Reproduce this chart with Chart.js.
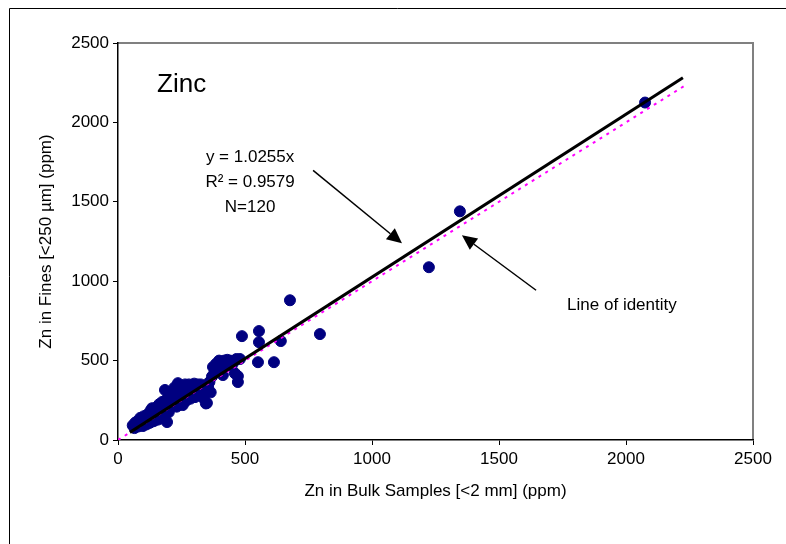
<!DOCTYPE html>
<html>
<head>
<meta charset="utf-8">
<script src="https://cdn.jsdelivr.net/npm/chart.js@4.4.1/dist/chart.umd.min.js"></script>
<style>
  html, body { margin: 0; padding: 0; background: #fff; }
</style>
</head>
<body>
<canvas id="zinc-chart" width="786" height="544"></canvas>
<script>
// Zn in bulk samples (x) vs Zn in fines (y), ppm
var bulkZn = [58, 65, 68, 72, 78, 80, 85, 88, 92, 95, 98, 102, 105, 108, 112, 115, 118, 122, 125, 128,
  132, 134, 138, 140, 144, 148, 150, 153, 156, 160, 162, 165, 168, 170, 174, 176, 180, 183, 185, 188,
  190, 193, 195, 198, 200, 203, 206, 208, 211, 214, 216, 219, 222, 225, 228, 231, 234, 236, 238, 241,
  244, 246, 249, 252, 255, 258, 261, 264, 267, 270, 273, 276, 279, 282, 285, 288, 291, 294, 297, 300,
  303, 306, 310, 314, 318, 322, 326, 330, 334, 338, 342, 346, 350, 355, 360, 365, 370, 374, 380, 386,
  392, 398, 404, 410, 413, 418, 424, 430, 436, 442, 448, 455, 460, 466, 472, 472,
  480, 488, 551, 555, 555, 614, 641, 677, 795, 1224, 1346, 2075];
var finesZn = [92, 75, 110, 95, 120, 85, 105, 140, 100, 125, 88, 150, 115, 135, 98, 160, 125, 145, 108, 185,
  130, 200, 155, 118, 170, 140, 205, 160, 128, 185, 225, 150, 200, 135, 240, 175, 210, 160, 315, 250,
  190, 113, 225, 270, 175, 240, 290, 205, 260, 305, 225, 280, 330, 245, 300, 210, 265, 358, 320, 235,
  285, 340, 255, 300, 220, 330, 275, 350, 245, 305, 330, 270, 350, 290, 260, 320, 345, 280, 300, 355,
  270, 330, 300, 350, 280, 325, 350, 295, 340, 260, 310, 230, 233, 330, 365, 300, 400, 460, 430, 480,
  450, 500, 470, 490, 409, 500, 460, 505, 480, 500, 470, 490, 420, 510, 402, 365,
  510, 654, 490, 686, 616, 490, 623, 880, 667, 1088, 1440, 2125];

// regression line y = 1.0255x and line of identity (end points)
var fitX = [47, 2224];
var fitY = [48, 2281];
var identityX = [0, 2236];
var identityY = [0, 2236];

var axisMin = 0;
var axisMax = 2500;
var axisStep = 500;

var FONT = "'Liberation Sans', Arial, sans-serif";

function toPoints(xs, ys) {
  return xs.map(function (x, i) { return { x: x, y: ys[i] }; });
}

// text and arrows placed in data units
var labelLines = ['y = 1.0255x', 'R\u00B2 = 0.9579', 'N=120'];
var labelAt = { x: 520, y: 1780 };
var arrowFit = { from: { x: 768, y: 1698 }, to: { x: 1118, y: 1239 } };
var arrowIdentity = { from: { x: 1646, y: 943 }, to: { x: 1354, y: 1289 } };

function drawArrow(ctx, x1, y1, x2, y2) {
  var ang = Math.atan2(y2 - y1, x2 - x1);
  var len = 15, half = 7;
  var bx = x2 - len * Math.cos(ang), by = y2 - len * Math.sin(ang);
  ctx.beginPath();
  ctx.moveTo(x1, y1);
  ctx.lineTo(bx, by);
  ctx.stroke();
  ctx.beginPath();
  ctx.moveTo(x2, y2);
  ctx.lineTo(bx + half * Math.sin(ang), by - half * Math.cos(ang));
  ctx.lineTo(bx - half * Math.sin(ang), by + half * Math.cos(ang));
  ctx.closePath();
  ctx.fill();
}

var decorations = {
  id: 'decorations',
  beforeDraw: function (chart) {
    var ctx = chart.ctx, a = chart.chartArea;
    ctx.save();
    // outer frame
    ctx.strokeStyle = '#000';
    ctx.lineWidth = 1;
    ctx.beginPath();
    ctx.moveTo(9.5, 544);
    ctx.lineTo(9.5, 8.5);
    ctx.lineTo(786, 8.5);
    ctx.stroke();
    // plot border top and right
    ctx.strokeStyle = '#808080';
    ctx.lineWidth = 2;
    ctx.beginPath();
    ctx.moveTo(a.left, a.top);
    ctx.lineTo(a.right, a.top);
    ctx.lineTo(a.right, a.bottom);
    ctx.stroke();
    ctx.restore();
  },
  afterDatasetsDraw: function (chart) {
    var ctx = chart.ctx, xs = chart.scales.x, ys = chart.scales.y;
    ctx.save();
    ctx.fillStyle = '#000';
    ctx.textBaseline = 'middle';

    ctx.font = '26px ' + FONT;
    ctx.textAlign = 'left';
    ctx.fillText('Zinc', xs.getPixelForValue(154), ys.getPixelForValue(2239));

    ctx.font = '17px ' + FONT;
    ctx.textAlign = 'center';
    var cx = xs.getPixelForValue(labelAt.x), cy = ys.getPixelForValue(labelAt.y);
    labelLines.forEach(function (t, i) { ctx.fillText(t, cx, cy + i * 25); });

    ctx.fillText('Line of identity', xs.getPixelForValue(1984), ys.getPixelForValue(849));

    ctx.strokeStyle = '#000';
    ctx.lineWidth = 1.5;
    [arrowFit, arrowIdentity].forEach(function (ar) {
      drawArrow(ctx,
        xs.getPixelForValue(ar.from.x), ys.getPixelForValue(ar.from.y),
        xs.getPixelForValue(ar.to.x), ys.getPixelForValue(ar.to.y));
    });
    ctx.restore();
  }
};

var ctx = document.getElementById('zinc-chart');

var chartData = {
  datasets: [{
    label: 'Fit',
    data: toPoints(fitX, fitY),
    showLine: true,
    borderColor: '#000',
    borderWidth: 3,
    pointRadius: 0,
    order: 1
  }, {
    label: 'Line of identity',
    data: toPoints(identityX, identityY),
    showLine: true,
    borderColor: '#ff00ff',
    borderWidth: 2,
    borderDash: [3, 5],
    pointRadius: 0,
    order: 2
  }, {
    label: 'Zn',
    data: toPoints(bulkZn, finesZn),
    backgroundColor: '#000080',
    borderColor: '#000080',
    pointRadius: 5.5,
    order: 3
  }]
};

var plainTick = function (v) { return String(v); };

var chartOptions = {
  responsive: false,
  animation: false,
  layout: { padding: { left: 36, top: 43, right: 33, bottom: 42 } },
  plugins: { legend: { display: false }, tooltip: { enabled: false } },
  scales: {
    x: {
      type: 'linear',
      min: axisMin, max: axisMax,
      afterFit: function (s) { s.height = 62; },
      ticks: { stepSize: axisStep, color: '#000', font: { family: FONT, size: 17 }, padding: 4, callback: plainTick },
      grid: { drawOnChartArea: false, drawTicks: true, tickLength: 5, color: '#000' },
      border: { display: true, color: '#000', width: 1.5 },
      title: { display: true, text: 'Zn in Bulk Samples [<2 mm] (ppm)', color: '#000',
        font: { family: FONT, size: 17 }, padding: 0 }
    },
    y: {
      type: 'linear',
      min: axisMin, max: axisMax,
      afterFit: function (s) { s.width = 82; },
      ticks: { stepSize: axisStep, color: '#000', font: { family: FONT, size: 17 }, padding: 4, callback: plainTick },
      grid: { drawOnChartArea: false, drawTicks: true, tickLength: 5, color: '#000' },
      border: { display: true, color: '#000', width: 1.5 },
      title: { display: true, text: 'Zn in Fines [<250 \u00B5m] (ppm)', color: '#000',
        font: { family: FONT, size: 17 }, padding: 0 }
    }
  }
};

var zincChart = new Chart(ctx, {
  type: 'scatter',
  data: chartData,
  options: chartOptions,
  plugins: [decorations]
});
</script>
</body>
</html>
